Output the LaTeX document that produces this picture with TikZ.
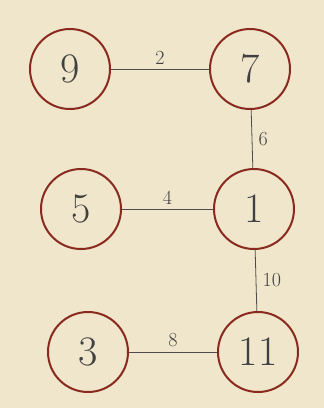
\documentclass[tikz,border=0pt]{standalone}
\usepackage{fontspec}
\usepackage{tikz}
\usetikzlibrary{positioning}
\definecolor{paper}{HTML}{EFE6CC}
\definecolor{ink}{HTML}{8A2A1E}
\tikzset{
  vert/.style={circle, draw=ink, line width=2pt, minimum size=80pt, inner sep=0pt,
    font=\fontsize{42}{44}\selectfont, text=black!75},
  edge/.style={draw=black!70, line width=0.8pt},
  wt/.style={font=\fontsize{20}{22}\selectfont, text=black!75}
}
\begin{document}
\begin{tikzpicture}[x=1pt,y=-1pt]
    \fill[paper] (0,0) rectangle (324,408);
    \useasboundingbox (0,0) rectangle (324,408);
    % vertices
    \node[vert] (v9) at (70,69) {9};
    \node[vert] (v7) at (250,69) {7};
    \node[vert] (v5) at (81,209) {5};
    \node[vert] (v1) at (254,209) {1};
    \node[vert] (v3) at (88,352) {3};
    \node[vert] (v11) at (258,352) {11};
    % edges
    \draw[edge] (v9) -- (v7) node[wt, midway, above=1pt] {2};
    \draw[edge] (v7) -- (v1) node[wt, midway, right=3pt] {6};
    \draw[edge] (v5) -- (v1) node[wt, midway, above=1pt] {4};
    \draw[edge] (v1) -- (v11) node[wt, midway, right=3pt] {10};
    \draw[edge] (v3) -- (v11) node[wt, midway, above=1pt] {8};
\end{tikzpicture}
\end{document}
